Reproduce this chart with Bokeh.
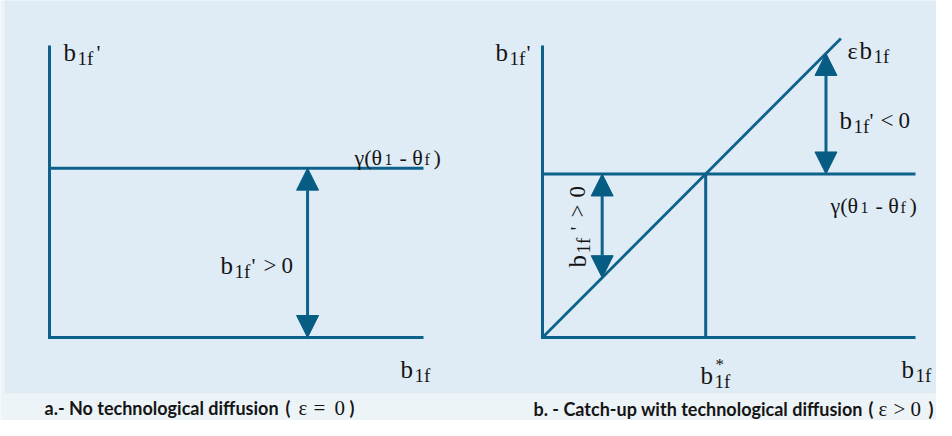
import math
from bokeh.plotting import figure
from bokeh.models import Range1d, Label, Arrow, NormalHead, BoxAnnotation
from bokeh.embed import file_html
from bokeh.resources import INLINE

# ---------------- data (abstract model units) ----------------
# Panel a: no technological diffusion (epsilon = 0)
a_axis_b = [0.0, 0.0, 10.0]          # L-shaped axes: b1f direction
a_axis_v = [10.0, 0.0, 0.0]          # L-shaped axes: b1f' direction
a_gamma = 5.8                        # gamma(theta1 - thetaf)
a_line_b = [0.0, 10.0]               # extent of the gamma line
a_arrow_b = 6.9                      # position of the b1f' > 0 arrow

# Panel b: catch-up with technological diffusion (epsilon > 0)
b_axis_b = [0.0, 0.0, 10.0]
b_axis_v = [10.0, 0.0, 0.0]
b_gamma = 5.6
b_eps = 1.28
b_line_b = [0.0, 10.0]
b_diag_b = [0.0, 8.0]                # extent of the epsilon*b1f line
b_arrow_neg_b = 7.6                  # b1f' < 0 arrow
b_arrow_pos_b = 1.6                  # b1f' > 0 arrow

b_star = b_gamma / b_eps
b_diag_v = [b_eps * v for v in b_diag_b]

# ---------------- styling / layout ----------------
LC = "#0c628a"
HC = "#065c83"
TC = "#151515"
SERIF = "Liberation Serif"
SANS = "Lato"
PAGE_BG = "#edf4f8"
PANEL_BG = "#e0ecf5"

W, H = 936, 420
X0, Y0 = 8, 8   # page offset of the canvas

p = figure(width=W, height=H, output_backend="svg", toolbar_location=None,
           x_range=Range1d(X0, X0 + W), y_range=Range1d(Y0 + H, Y0),
           x_axis_location=None, y_axis_location=None, min_border=0,
           background_fill_color=PAGE_BG, border_fill_color=PAGE_BG,
           outline_line_color=None)
p.grid.visible = False


def panel_ranges(ox, oy, sx, sy):
    xr = Range1d(start=(X0 - ox) / sx, end=(X0 + W - ox) / sx)
    yr = Range1d(start=(oy - (Y0 + H)) / sy, end=(oy - Y0) / sy)
    return xr, yr


axr, ayr = panel_ranges(57, 345, 37.4, 29.2)
bxr, byr = panel_ranges(550, 345, 37.3, 29.2)
p.extra_x_ranges = {"ax": axr, "bx": bxr}
p.extra_y_ranges = {"ay": ayr, "by": byr}

# panel background
p.add_layout(BoxAnnotation(left=13, right=960, top=4, bottom=400,
                           fill_color=PANEL_BG, fill_alpha=1.0,
                           line_color="#d0e1ec", line_width=1.5,
                           level="underlay"))

lkw = dict(line_color=LC, line_width=3, line_join="miter")

# ---- panel a
p.line(a_axis_b, a_axis_v, x_range_name="ax", y_range_name="ay", **lkw)
p.line(a_line_b, [a_gamma, a_gamma], x_range_name="ax", y_range_name="ay", **lkw)


def arrow(x, y0, y1, xr, yr):
    p.add_layout(Arrow(start=NormalHead(size=22, fill_color=HC, line_color=HC, line_width=1),
                       end=NormalHead(size=22, fill_color=HC, line_color=HC, line_width=1),
                       x_start=x, y_start=y0, x_end=x, y_end=y1,
                       line_color=LC, line_width=3,
                       x_range_name=xr, y_range_name=yr))


arrow(a_arrow_b, 0.0, a_gamma, "ax", "ay")

# ---- panel b
p.line(b_axis_b, b_axis_v, x_range_name="bx", y_range_name="by", **lkw)
p.line(b_line_b, [b_gamma, b_gamma], x_range_name="bx", y_range_name="by", **lkw)
p.line(b_diag_b, b_diag_v, x_range_name="bx", y_range_name="by",
       line_color=LC, line_width=2.8)
p.line([b_star, b_star], [0.0, b_gamma], x_range_name="bx", y_range_name="by", **lkw)
arrow(b_arrow_neg_b, b_gamma, b_eps * b_arrow_neg_b, "bx", "by")
arrow(b_arrow_pos_b, b_eps * b_arrow_pos_b, b_gamma, "bx", "by")


# ---------------- text ----------------
def txt(x, y, s, size, font=SERIF, angle=0.0, bold=False, color=TC):
    p.add_layout(Label(x=x, y=y, text=s, text_font=font,
                       text_font_size=f"{size}px", text_color=color,
                       text_baseline="alphabetic", text_align="left",
                       angle=angle,
                       text_font_style="bold" if bold else "normal"))


def b1f(x, y):
    txt(x, y, "b", 25)
    txt(x + 14, y + 6, "1f", 19)


def gamma_label(x, y):
    txt(x, y, "γ(θ", 22)
    txt(x + 30, y + 2, "1", 16)
    txt(x + 45, y, "- θ", 22)
    txt(x + 70, y + 2, "f", 16)
    txt(x + 79, y, ")", 22)


# panel a texts
b1f(71, 60); txt(104, 60, "'", 22)
gamma_label(362, 165)
b1f(228, 273); txt(259, 273, "'", 22); txt(271, 273, ">", 23); txt(289, 273, "0", 23)
b1f(408, 377)

# panel b texts
b1f(503, 60); txt(534, 60, "'", 22)
txt(855, 58, "ε", 24); b1f(867, 58)
b1f(847, 128); txt(877, 128, "'", 22); txt(888, 128, "<", 23); txt(906, 128, "0", 23)
gamma_label(838, 213)
# rotated b1f' > 0
R = math.pi / 2
bx0, by0 = 585, 275
for d, s, size, low in [(0, "b", 25, 0), (14, "1f", 19, 6), (37, "'", 22, 0),
                         (50, ">", 23, 0), (70, "0", 23, 0)]:
    txt(bx0 + low, by0 - d, s, size, angle=R)
# b*1f
txt(708, 383, "b", 25); txt(723, 372, "*", 17); txt(722, 389, "1f", 19)
b1f(909, 377)

# captions
CA, CB = 415, 416
txt(52, CA, "a.- No technological diffusion", 18, SANS, bold=True)
txt(293, CA, "(", 18, SANS, bold=True)
txt(306, CA, "ε", 21); txt(321, CA, "=", 21); txt(342, CA, "0", 21)
txt(357, CA, ")", 18, SANS, bold=True)
txt(541, CB, "b. - Catch-up with technological diffusion", 18, SANS, bold=True)
txt(876, CB, "(", 18, SANS, bold=True)
txt(886, CB, "ε", 21); txt(901, CB, ">", 21); txt(918, CB, "0", 21)
txt(936, CB, ")", 18, SANS, bold=True)

open("out.html", "w").write(file_html(p, INLINE))
